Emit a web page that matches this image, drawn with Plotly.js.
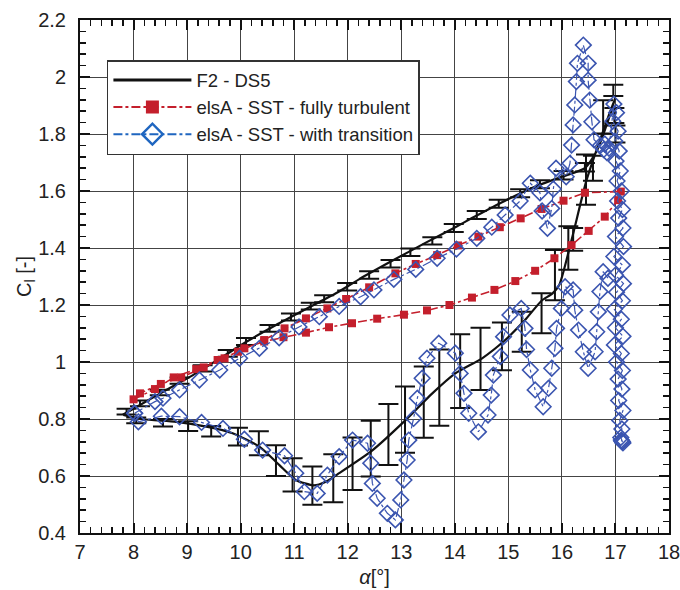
<!DOCTYPE html>
<html><head><meta charset="utf-8">
<script src="https://cdn.plot.ly/plotly-3.0.1.min.js"></script>
<style>html,body{margin:0;padding:0;background:#fff}#chart{width:680px;height:590px}</style>
</head><body><div id="chart"></div>
<script>
// F2 - DS5 experiment: mean curve (upstroke then downstroke)
const expLineX = [7.80,8.12,8.61,9.11,9.61,10.10,10.66,11.16,11.78,12.21,12.83,13.45,14.01,14.32,14.94,15.56,16.00,16.43,16.65,16.85,17.00,
                  16.80,16.46,16.18,15.95,15.82,15.62,15.31,14.94,14.51,14.01,13.58,13.08,12.46,11.84,11.59,11.37,11.03,10.72,10.35,9.85,9.36,8.80,8.18,7.81];
const expLineY = [0.815,0.849,0.902,0.954,1.012,1.070,1.130,1.180,1.241,1.290,1.355,1.418,1.473,1.505,1.566,1.620,1.650,1.680,1.740,1.840,1.930,
                  1.826,1.638,1.428,1.270,1.240,1.215,1.147,1.077,1.013,0.960,0.890,0.796,0.690,0.610,0.580,0.567,0.586,0.639,0.703,0.750,0.773,0.790,0.799,0.814];
// F2 - DS5 experiment: error bars (centre and half-height)
const expErrX = [7.87,8.12,8.49,8.86,9.29,9.76,10.10,10.54,10.94,11.31,11.56,11.99,12.40,12.80,13.17,13.58,13.98,14.41,14.82,15.22,15.59,16.03,16.43,
                 8.05,8.55,9.02,9.45,9.95,10.34,10.66,10.97,11.34,11.73,12.09,12.43,12.76,13.07,13.42,13.71,14.10,14.48,14.88,15.25,15.62,15.87,16.12,16.21,16.45,16.58,16.77,16.96,16.98,17.00];
const expErrY = [0.826,0.855,0.893,0.935,0.978,1.030,1.072,1.118,1.158,1.196,1.222,1.264,1.305,1.345,1.385,1.425,1.470,1.516,1.555,1.592,1.624,1.655,1.683,
                 0.795,0.787,0.775,0.757,0.738,0.715,0.654,0.604,0.566,0.592,0.643,0.696,0.746,0.798,0.859,0.910,0.968,1.011,1.055,1.106,1.171,1.305,1.400,1.430,1.640,1.680,1.860,1.953,1.865,1.800];
const expErrV = [0.010,0.010,0.010,0.011,0.011,0.012,0.012,0.012,0.012,0.012,0.012,0.013,0.013,0.013,0.013,0.013,0.014,0.014,0.014,0.014,0.014,0.015,0.015,
                 0.010,0.013,0.017,0.018,0.031,0.042,0.054,0.058,0.067,0.084,0.092,0.098,0.107,0.116,0.125,0.134,0.129,0.109,0.084,0.070,0.070,0.088,0.076,0.040,0.088,0.044,0.058,0.020,0.026,0.030];
// elsA - SST - fully turbulent
const fullyX = [8.00,8.40,8.75,9.17,9.57,9.95,10.44,10.82,11.22,11.62,11.97,12.40,12.89,13.27,13.67,14.06,14.44,14.84,15.23,15.62,16.03,16.43,17.10,
                17.05,16.80,16.50,16.18,15.86,15.50,15.13,14.74,14.32,13.90,13.48,13.05,12.55,12.08,11.65,11.22,10.80,10.44,10.07,9.70,9.31,8.89,8.51,8.12];
const fullyY = [0.869,0.905,0.946,0.975,1.007,1.036,1.077,1.118,1.153,1.188,1.221,1.262,1.311,1.344,1.375,1.409,1.440,1.473,1.504,1.537,1.566,1.594,1.598,
                1.568,1.510,1.460,1.410,1.364,1.320,1.284,1.253,1.226,1.200,1.181,1.166,1.152,1.136,1.122,1.103,1.087,1.072,1.048,1.013,0.981,0.946,0.923,0.890];
// elsA - SST - with transition
const transX = [8.02,8.40,8.55,8.86,9.23,9.61,9.98,10.35,10.72,11.09,11.47,11.84,12.24,12.49,12.86,13.27,13.67,14.03,14.41,14.69,14.94,15.22,15.41,
                15.59,15.63,15.73,15.81,15.84,15.89,16.08,16.15,16.18,16.21,16.24,16.27,16.29,16.40,16.49,16.49,16.52,16.56,16.60,16.72,16.78,16.84,16.80,16.88,
                16.97,17.02,16.95,17.05,16.99,17.07,17.01,17.09,17.03,17.11,17.04,17.13,17.06,17.14,17.00,17.15,16.97,17.13,17.00,17.15,17.02,17.13,16.98,17.11,
                17.00,17.14,16.98,17.11,17.02,17.13,17.05,17.12,17.06,17.14,17.08,17.12,17.10,17.12,17.14,17.11,17.13,
                null,
                16.86,16.77,16.71,16.68,16.65,16.62,16.49,16.40,16.31,16.24,16.21,16.06,15.99,15.90,15.87,15.81,15.75,15.65,15.50,15.41,15.34,15.31,15.24,
                15.03,14.91,14.85,14.72,14.68,14.62,14.44,14.26,14.17,14.10,14.01,13.70,13.48,13.39,13.30,13.23,13.14,13.11,13.05,12.99,12.89,12.74,12.55,
                12.46,12.43,12.37,12.09,11.84,11.62,11.43,11.19,11.03,10.82,10.41,10.07,9.67,9.27,8.86,8.52,8.09,8.02];
const transY = [0.820,0.861,0.873,0.902,0.937,0.972,1.013,1.048,1.085,1.123,1.159,1.195,1.229,1.253,1.290,1.325,1.364,1.396,1.434,1.473,1.516,1.565,1.627,
                1.594,1.530,1.469,1.539,1.607,1.680,1.650,1.697,1.761,1.832,1.902,1.984,2.048,2.112,2.048,1.989,1.919,1.843,1.780,1.760,1.745,1.735,1.765,1.750,
                1.905,1.875,1.845,1.810,1.775,1.740,1.705,1.670,1.635,1.600,1.565,1.535,1.505,1.470,1.440,1.405,1.370,1.340,1.305,1.275,1.245,1.215,1.185,1.150,
                1.120,1.090,1.060,1.030,1.000,0.970,0.940,0.905,0.865,0.830,0.795,0.765,0.735,0.722,0.716,0.726,0.720,
                null,
                1.294,1.317,1.247,1.176,1.106,1.036,0.978,1.036,1.112,1.182,1.253,1.264,1.188,1.118,1.048,0.978,0.908,0.843,0.902,0.972,1.044,1.118,1.188,
                1.165,1.089,1.019,0.954,0.884,0.814,0.755,0.820,0.890,0.960,1.031,1.066,1.013,0.943,0.873,0.802,0.726,0.656,0.586,0.516,0.446,0.469,0.522,
                0.574,0.645,0.715,0.726,0.668,0.603,0.539,0.545,0.610,0.671,0.691,0.729,0.767,0.788,0.808,0.810,0.790,0.820];
// axis tick values and series names
const xTicks = [7,8,9,10,11,12,13,14,15,16,17,18];
const yTicks = [0.4,0.6,0.8,1,1.2,1.4,1.6,1.8,2,2.2];
const seriesNames = ['F2 - DS5', 'elsA - SST - fully turbulent', 'elsA - SST - with transition'];

const FONT = 'Liberation Sans, Arial, Helvetica, sans-serif';
const RED = '#c41f2c', BLUE = '#3b55b0', LEGBLUE = '#1f66c0';

const traces = [
  {x: expLineX, y: expLineY, mode: 'lines', name: seriesNames[0], showlegend: false,
   line: {color: '#111', width: 2.2, shape: 'spline', smoothing: 0.6}},
  {x: expErrX, y: expErrY, mode: 'markers', showlegend: false, hoverinfo: 'skip',
   marker: {size: 1, color: 'rgba(0,0,0,0)'},
   error_y: {type: 'data', array: expErrV, visible: true, color: '#111', thickness: 2, width: 10}},
  {x: fullyX, y: fullyY, mode: 'lines+markers', name: seriesNames[1], showlegend: false,
   line: {color: RED, width: 1.6, dash: 'dashdot'},
   marker: {symbol: 'square', size: 8, color: RED}},
  {x: transX, y: transY, mode: 'lines+markers', name: seriesNames[2], connectgaps: false, showlegend: false,
   line: {color: BLUE, width: 1.2, dash: 'dashdot'},
   marker: {symbol: 'diamond-open', size: 12, color: BLUE, line: {width: 1.6, color: BLUE}}},
  // legend entries (no data drawn)
  {x: [null], y: [null], mode: 'lines', name: seriesNames[0], line: {color: '#111', width: 3}},
  {x: [null], y: [null], mode: 'lines+markers', name: seriesNames[1],
   line: {color: RED, width: 2, dash: 'dashdot'}, marker: {symbol: 'square', size: 13, color: RED}},
  {x: [null], y: [null], mode: 'lines+markers', name: seriesNames[2],
   line: {color: LEGBLUE, width: 2, dash: 'dashdot'},
   marker: {symbol: 'diamond-open', size: 16, color: LEGBLUE, line: {width: 2.5, color: LEGBLUE}}}
];

const axisCommon = {
  showline: true, linecolor: '#111', linewidth: 2, mirror: 'allticks',
  ticks: 'inside', ticklen: 10, tickwidth: 2, tickcolor: '#111',
  showgrid: true, gridcolor: '#444', gridwidth: 1, zeroline: false,
  ticklabeloverflow: 'allow',
  tickfont: {family: FONT, size: 20, color: '#222'}
};

const layout = {
  width: 680, height: 590,
  margin: {l: 80, r: 11, t: 20, b: 57},
  paper_bgcolor: '#fff', plot_bgcolor: '#fff',
  font: {family: FONT, color: '#222'},
  xaxis: Object.assign({}, axisCommon, {
    range: [7, 18], tickmode: 'array', tickvals: xTicks, ticktext: xTicks.map(String),
    minor: {dtick: 0.2, ticklen: 6, tickwidth: 1.5, tickcolor: '#111', ticks: 'inside', showgrid: false},
    title: {text: '<i>α</i>[°]', font: {family: FONT, size: 20, color: '#222'}, standoff: 8}
  }),
  yaxis: Object.assign({}, axisCommon, {
    range: [0.4, 2.2], tickmode: 'array', tickvals: yTicks, ticktext: yTicks.map(String),
    minor: {dtick: 0.04, ticklen: 6, tickwidth: 1.5, tickcolor: '#111', ticks: 'inside', showgrid: false},
    ticklabelstandoff: 8,
    title: {text: 'C<sub>l</sub> [-]', font: {family: FONT, size: 20, color: '#222'}, standoff: 0}
  }),
  legend: {
    x: 0.0457, y: 0.922, xanchor: 'left', yanchor: 'top',
    bgcolor: '#fff', bordercolor: '#333', borderwidth: 1.5,
    font: {family: FONT, size: 18.5, color: '#222'},
    itemwidth: 78, tracegroupgap: 0
  },
  showlegend: true
};

Plotly.newPlot('chart', traces, layout, {displayModeBar: false, staticPlot: true});
</script>
</body></html>
